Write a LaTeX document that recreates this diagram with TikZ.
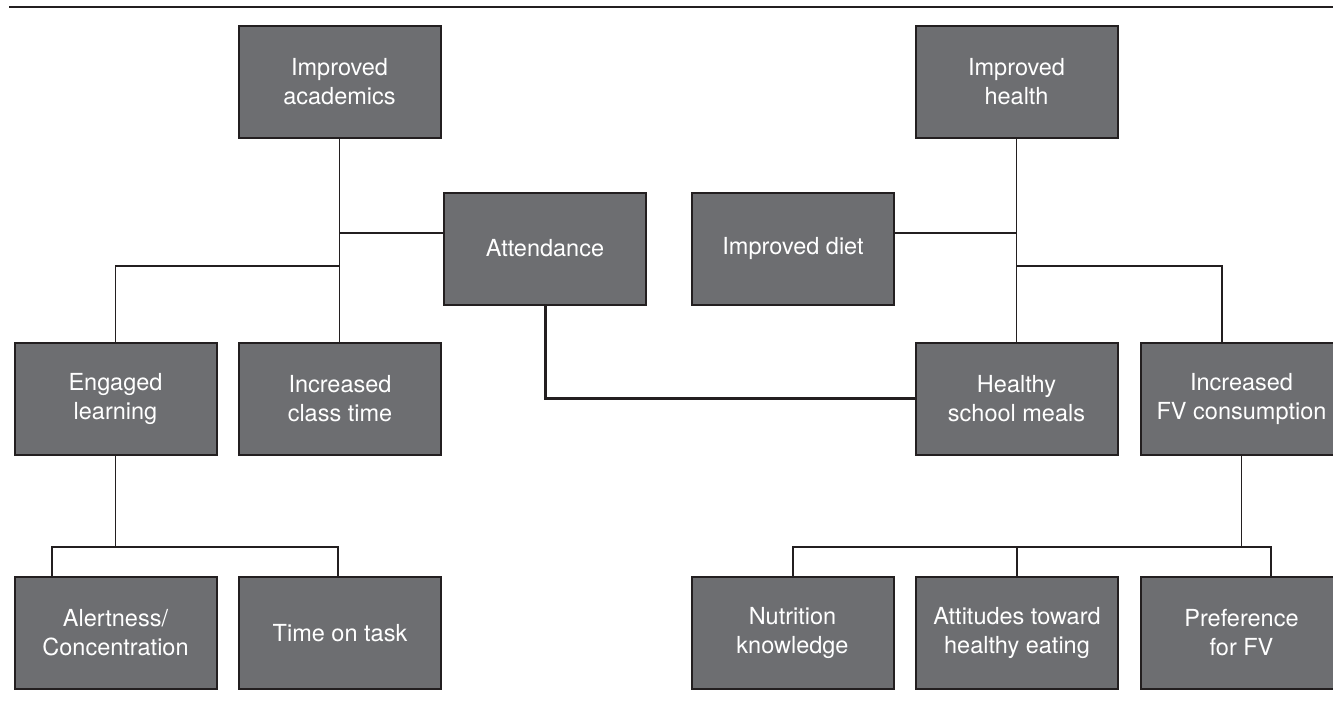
\documentclass[tikz,border=0pt]{standalone}
\usepackage{fontspec}
\setmainfont{TeX Gyre Heros}
\definecolor{boxgray}{HTML}{6D6E71}
\definecolor{ink}{HTML}{231F20}
\begin{document}
\begin{tikzpicture}[x=1pt,y=-1pt,
  box/.style={draw=ink, line width=2pt, fill=boxgray, text=white,
    minimum width=202pt, minimum height=112pt, inner sep=0pt,
    align=center, font=\fontsize{23.5}{29}\selectfont},
  link/.style={draw=ink, line width=1.5pt},
  boldlink/.style={draw=ink, line width=3pt}]
\useasboundingbox (0,0) rectangle (1333,716);

% rule across the top
\draw[ink, line width=2.5pt] (9,7) -- (1333,7);

% outcome boxes
\node[box] (acad)      at (339.5,82)    {Improved\\academics};
\node[box] (health)    at (1016.5,82)   {Improved\\health};
\node[box] (attend)    at (545,248.5)   {Attendance};
\node[box] (diet)      at (793,248.5)   {Improved diet};
\node[box] (engaged)   at (115.5,398.5) {Engaged\\learning};
\node[box] (classtime) at (340,398.5)   {Increased\\class time};
\node[box] (meals)     at (1016.5,398.5){Healthy\\school meals};
\node[box] (fv)        at (1241.5,398.5){Increased\\FV consumption};
\node[box] (alert)     at (115.5,633)   {Alertness/\\Concentration};
\node[box] (task)      at (340,633)     {Time on task};
\node[box] (nutri)     at (792.5,633)   {Nutrition\\knowledge};
\node[box] (attit)     at (1017,633)    {Attitudes toward\\healthy eating};
\node[box] (pref)      at (1241.5,633)  {Preference\\for FV};

% academic branch
\coordinate (acadA) at (339.5,233);
\coordinate (acadB) at (339.5,266);
\draw[link] (acad.south) -- (acad.south |- classtime.north);
\draw[link] (acadA) -- (attend.west |- acadA);
\draw[link] (acadB) -| (engaged.north);
\coordinate (engL) at (52,547);
\coordinate (engR) at (338,547);
\draw[link] (engaged.south) -- (engaged.south |- engL);
\draw[link] (alert.north -| engL) |- (engR) -- (task.north -| engR);

% health branch
\coordinate (hA) at (1016.5,233);
\coordinate (hB) at (1016.5,266);
\coordinate (fvIn) at (1222,266);
\draw[link] (health.south) -- (health.south |- meals.north);
\draw[link] (diet.east |- hA) -- (hA);
\draw[link] (hB) -- (fvIn) -- (fvIn |- fv.north);
\coordinate (botL) at (793,547);
\coordinate (botR) at (1271,547);
\draw[link] (fv.south) -- (fv.south |- botL);
\draw[link] (nutri.north -| botL) |- (botR) -- (pref.north -| botR);
\draw[link] (attit.north) -- (attit.north |- botL);

% attendance linked to school meals
\draw[boldlink] (attend.south) |- (meals.west);
\end{tikzpicture}
\end{document}
